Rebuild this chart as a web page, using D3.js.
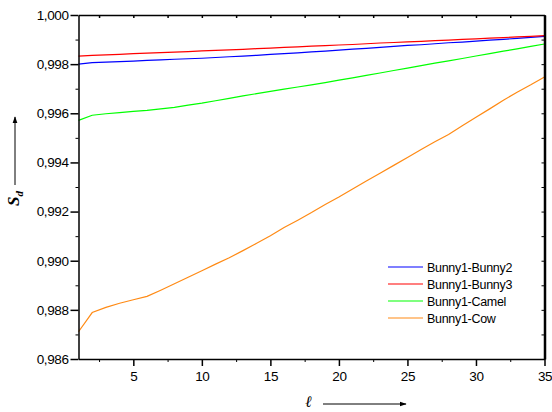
<!DOCTYPE html>
<html>
<head>
<meta charset="utf-8">
<script src="https://cdn.jsdelivr.net/npm/d3@7"></script>
<style>
  body { margin: 0; background: #fff; }
  svg { display: block; font-family: "Liberation Sans", Arial, sans-serif; }
  .axis path, .axis line { stroke: #000; }
  .axis text { font-size: 13.5px; fill: #000; letter-spacing: -0.4px; }
</style>
</head>
<body>
<div id="chart-area"></div>
<script>
// x values (l) and the four similarity series
var lValues = [1, 2, 3, 4, 5, 6, 7, 8, 9, 10, 11, 12, 13, 14, 15, 16, 17, 18,
  19, 20, 21, 22, 23, 24, 25, 26, 27, 28, 29, 30, 31, 32, 33, 34, 35];

var bunny2 = [0.99800, 0.99806, 0.99808, 0.99810, 0.99812, 0.99815, 0.99817, 0.99820,
  0.99822, 0.99824, 0.99827, 0.99830, 0.99833, 0.99836, 0.99840, 0.99843, 0.99846,
  0.99850, 0.99853, 0.99857, 0.99861, 0.99864, 0.99868, 0.99872, 0.99876, 0.99879,
  0.99883, 0.99887, 0.99890, 0.99894, 0.99898, 0.99901, 0.99905, 0.99909, 0.99913];

var bunny3 = [0.99833, 0.99836, 0.99838, 0.99840, 0.99843, 0.99845, 0.99847, 0.99849,
  0.99851, 0.99854, 0.99856, 0.99858, 0.99860, 0.99863, 0.99865, 0.99868, 0.99870,
  0.99873, 0.99875, 0.99878, 0.99880, 0.99883, 0.99886, 0.99888, 0.99891, 0.99893,
  0.99896, 0.99898, 0.99901, 0.99903, 0.99906, 0.99908, 0.99911, 0.99913, 0.99916];

var camel = [0.99571, 0.99592, 0.99598, 0.99603, 0.99608, 0.99612, 0.99618, 0.99624,
  0.99633, 0.99641, 0.99651, 0.99661, 0.99671, 0.99680, 0.99689, 0.99698, 0.99707,
  0.99716, 0.99725, 0.99735, 0.99744, 0.99754, 0.99764, 0.99774, 0.99784, 0.99794,
  0.99804, 0.99813, 0.99823, 0.99833, 0.99843, 0.99853, 0.99862, 0.99872, 0.99882];

var cow = [0.98711, 0.98789, 0.98810, 0.98827, 0.98841, 0.98855, 0.98880, 0.98906,
  0.98933, 0.98959, 0.98986, 0.99012, 0.99041, 0.99071, 0.99102, 0.99135, 0.99165,
  0.99196, 0.99229, 0.99259, 0.99292, 0.99324, 0.99356, 0.99388, 0.99420, 0.99453,
  0.99484, 0.99514, 0.99549, 0.99584, 0.99618, 0.99653, 0.99686, 0.99716, 0.99748];

var seriesNames = ["Bunny1-Bunny2", "Bunny1-Bunny3", "Bunny1-Camel", "Bunny1-Cow"];
var seriesColors = ["#0000ff", "#ff0000", "#00ff00", "#ff8a14"];

var xMajorTicks = [5, 10, 15, 20, 25, 30, 35];
var xMinorTicks = [2.5, 7.5, 12.5, 17.5, 22.5, 27.5, 32.5];
var yMajorTicks = [0.986, 0.988, 0.990, 0.992, 0.994, 0.996, 0.998, 1.000];
var yMinorTicks = [0.987, 0.989, 0.991, 0.993, 0.995, 0.997, 0.999];

var margin = { left: 78.5, right: 7.5, top: 15, bottom: 53 };
var width = 552 - margin.left - margin.right,
    height = 412 - margin.top - margin.bottom;

var svg = d3.select("#chart-area")
  .append("svg")
    .attr("width", 552)
    .attr("height", 412);

var g = svg.append("g")
  .attr("transform", "translate(" + margin.left + "," + margin.top + ")");

var x = d3.scaleLinear().domain([1, 35]).range([0, width]);
var y = d3.scaleLinear().domain([0.986, 1.000]).range([height, 0]);

var fmt = function(d) { return d3.format(".3f")(d).replace(".", ","); };

// lines
var allSeries = [bunny2, bunny3, camel, cow];
var line = d3.line()
  .x(function(d, i) { return x(lValues[i]); })
  .y(function(d) { return y(d); });

allSeries.forEach(function(s, i) {
  g.append("path")
    .datum(s)
    .attr("fill", "none")
    .attr("stroke", seriesColors[i])
    .attr("stroke-width", 1.2)
    .attr("d", line);
});

// bottom axis
g.append("g").attr("class", "axis")
  .attr("transform", "translate(0," + height + ")")
  .call(d3.axisBottom(x).tickValues(xMinorTicks).tickSize(3).tickFormat(""))
  .select(".domain").remove();
g.append("g").attr("class", "axis")
  .attr("transform", "translate(0," + height + ")")
  .call(d3.axisBottom(x).tickValues(xMajorTicks).tickSize(7).tickSizeOuter(0).tickPadding(5))
  .selectAll("path, line").attr("stroke-width", 1.5);

// left axis
g.append("g").attr("class", "axis")
  .call(d3.axisLeft(y).tickValues(yMinorTicks).tickSize(3).tickFormat(""))
  .select(".domain").remove();
g.append("g").attr("class", "axis")
  .call(d3.axisLeft(y).tickValues(yMajorTicks).tickSize(8).tickSizeOuter(0).tickPadding(2).tickFormat(fmt))
  .selectAll("path, line").attr("stroke-width", 1.5);

// top axis, ticks inside
g.append("g").attr("class", "axis")
  .call(d3.axisTop(x).tickValues(xMinorTicks.concat(xMajorTicks)).tickSize(-3).tickSizeOuter(0).tickFormat(""))
  .selectAll("path, line").attr("stroke-width", 1.5);

// right axis, ticks inside
g.append("g").attr("class", "axis")
  .attr("transform", "translate(" + width + ",0)")
  .call(d3.axisRight(y).tickValues(yMinorTicks.concat(yMajorTicks)).tickSize(-3).tickSizeOuter(0).tickFormat(""))
  .call(function(a) { a.select(".domain").attr("stroke", "#444").attr("stroke-width", 2.5); })
  .selectAll("line").attr("stroke", "#444");

// arrow marker
svg.append("defs").append("marker")
  .attr("id", "arrow")
  .attr("viewBox", "0 0 10 10")
  .attr("refX", 9).attr("refY", 5)
  .attr("markerWidth", 7).attr("markerHeight", 7)
  .attr("orient", "auto")
  .append("path")
    .attr("d", "M0,1.5L10,5L0,8.5Z")
    .attr("fill", "#000");

// Y label: S_d with arrow
var yLab = svg.append("text")
  .attr("transform", "translate(19,206) rotate(-90)")
  .attr("font-family", "Liberation Serif, serif")
  .attr("font-style", "italic")
  .attr("font-weight", "bold")
  .attr("font-size", "17px");
yLab.append("tspan").text("S");
yLab.append("tspan").attr("dy", 4).attr("font-size", "11px").text("d");

svg.append("line")
  .attr("x1", 15).attr("y1", 185)
  .attr("x2", 15).attr("y2", 117)
  .attr("stroke", "#000")
  .attr("stroke-width", 1)
  .attr("marker-end", "url(#arrow)");

// X label: l with arrow
svg.append("text")
  .attr("x", 309).attr("y", 407)
  .attr("text-anchor", "middle")
  .attr("font-family", "DejaVu Serif, serif")
  .attr("font-style", "italic")
  .attr("font-weight", "bold")
  .attr("font-size", "16px")
  .text("\u2113");

svg.append("line")
  .attr("x1", 323).attr("y1", 404)
  .attr("x2", 406).attr("y2", 404)
  .attr("stroke", "#000")
  .attr("stroke-width", 1)
  .attr("marker-end", "url(#arrow)");

// legend
var legend = svg.append("g").attr("transform", "translate(388,267)");
seriesNames.forEach(function(name, i) {
  var row = legend.append("g").attr("transform", "translate(0," + (i * 17) + ")");
  row.append("line")
    .attr("x1", 0).attr("x2", 35)
    .attr("y1", 0).attr("y2", 0)
    .attr("stroke", seriesColors[i])
    .attr("stroke-width", 1.2);
  row.append("text")
    .attr("x", 39).attr("y", 4.5)
    .attr("font-size", "12.5px")
    .attr("letter-spacing", "-0.3px")
    .text(name);
});
</script>
</body>
</html>
